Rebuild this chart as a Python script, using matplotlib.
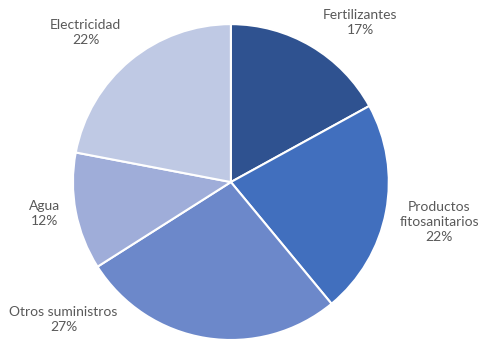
import matplotlib
matplotlib.use("Agg")
import matplotlib.pyplot as plt

# data
labels = ["Fertilizantes", "Productos\nfitosanitarios", "Otros suministros", "Agua", "Electricidad"]
values = [17, 22, 27, 12, 22]
colors = ["#2F5290", "#416FBE", "#6C88CA", "#9FADD9", "#BFC9E4"]

# label positions (data coords, pie radius = 1)
label_pos = [(0.82, 1.01), (1.32, -0.25), (-1.06, -0.87), (-1.18, -0.20), (-0.92, 0.95)]

fig = plt.figure(figsize=(4.82, 3.40), dpi=100)
ax = fig.add_axes([0.151, 0.0, 0.656, 0.929])

ax.pie(values, colors=colors, startangle=90, counterclock=False, radius=1,
       wedgeprops=dict(edgecolor="white", linewidth=1.5))

for lab, v, (x, y) in zip(labels, values, label_pos):
    ax.text(x, y, "%s\n%d%%" % (lab, v), ha="center", va="center",
            fontsize=10, color="#595959", family="Lato", linespacing=1.3)

ax.set_xlim(-1, 1)
ax.set_ylim(-1, 1)
ax.set_aspect("equal")
ax.axis("off")

fig.savefig("out.png", dpi=100)
